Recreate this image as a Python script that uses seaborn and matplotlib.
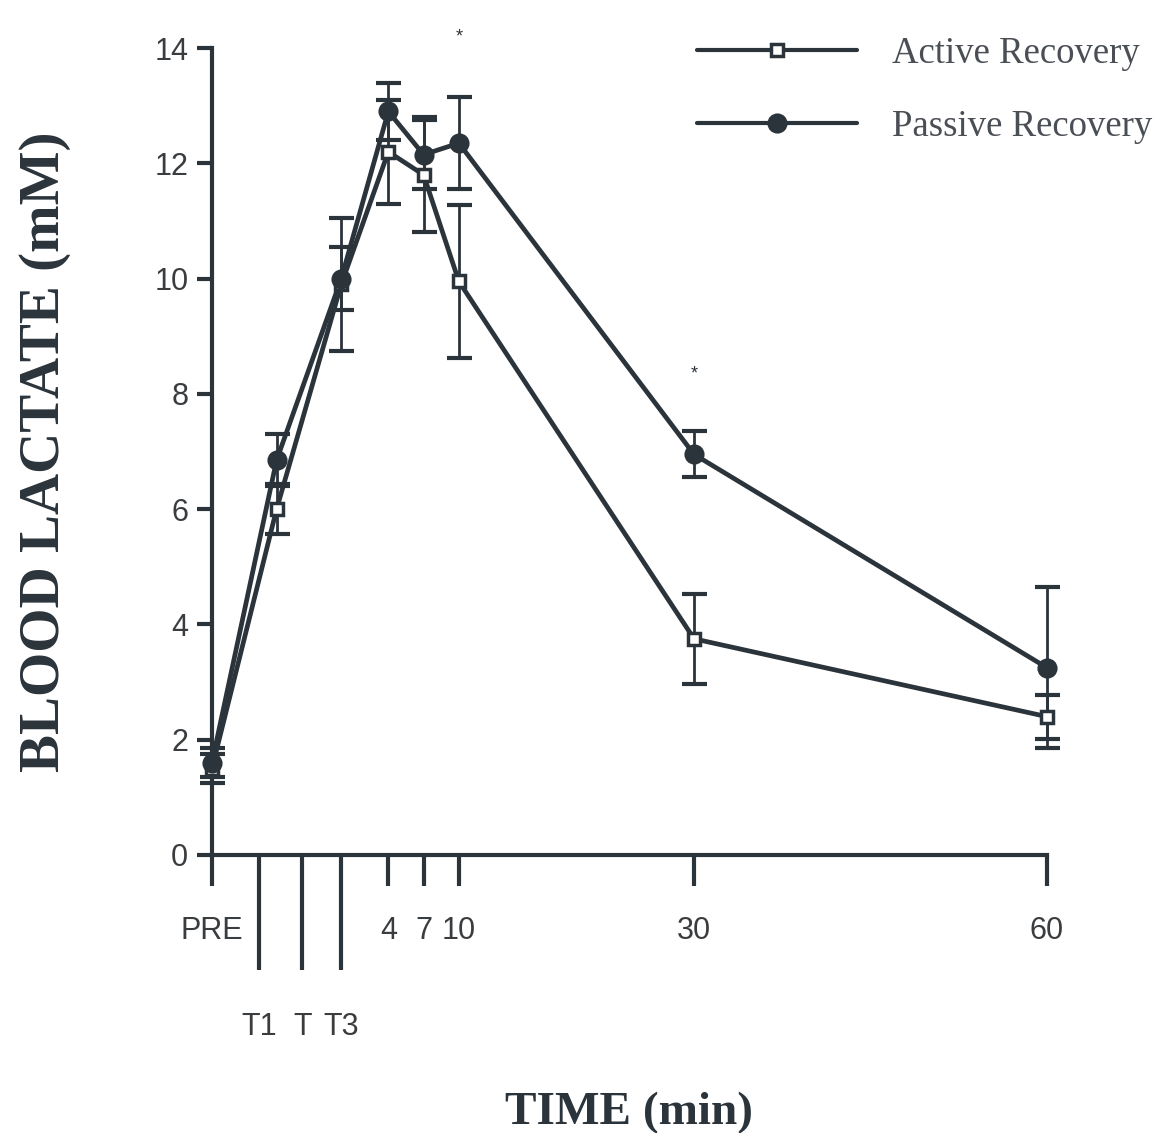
import matplotlib
matplotlib.use("Agg")
import matplotlib.pyplot as plt
from matplotlib.lines import Line2D
import numpy as np
import pandas as pd
import seaborn as sns

# Time axis (minutes, 0 = end of exercise bout T3)
major_tick_times = [-11, 4, 7, 10, 30, 60]
major_tick_labels = ["PRE", "4", "7", "10", "30", "60"]
minor_tick_times = [-7, -3.3, 0]
minor_tick_labels = ["T1", "T", "T3"]

# Sampling times and blood lactate (mean +/- SE)
sample_times = [-11, -5.5, 0, 4, 7, 10, 30, 60]
active_mean = [1.5, 6.0, 9.9, 12.2, 11.8, 9.95, 3.75, 2.4]
active_err = [0.25, 0.43, 1.15, 0.9, 1.0, 1.32, 0.78, 0.38]
passive_mean = [1.6, 6.85, 10.0, 12.9, 12.15, 12.35, 6.95, 3.25]
passive_err = [0.25, 0.45, 0.55, 0.5, 0.6, 0.8, 0.4, 1.4]

# Significant differences between conditions
star_times = [10, 30]
star_heights = [14.2, 8.35]

ink = "#2b333b"
text_ink = "#3a3d40"

df = pd.DataFrame({
    "time": sample_times * 2,
    "lactate": active_mean + passive_mean,
    "err": active_err + passive_err,
    "group": ["Active Recovery"] * len(sample_times) + ["Passive Recovery"] * len(sample_times),
})

sns.set_theme(style="ticks")
plt.rcParams["font.family"] = ["Liberation Sans", "DejaVu Sans"]

fig = plt.figure(figsize=(11.58, 11.33), dpi=100)
ax = fig.add_axes([0.183, 0.2454, 0.721, 0.7122])

styles = {
    "Active Recovery": dict(marker="s", mfc="white", ms=9),
    "Passive Recovery": dict(marker="o", mfc=ink, ms=12),
}

sns.lineplot(data=df, x="time", y="lactate", hue="group",
             palette=[ink, ink], lw=3.4, legend=False, ax=ax, sort=False)

for name, sub in df.groupby("group"):
    ax.errorbar(sub["time"], sub["lactate"], yerr=sub["err"], fmt="none",
                ecolor=ink, elinewidth=2.0, capsize=9, capthick=3, clip_on=False, zorder=3)
    ax.plot(sub["time"], sub["lactate"], ls="none", color=ink, mec=ink, mew=2.5,
            clip_on=False, zorder=4, **styles[name])

for t, h in zip(star_times, star_heights):
    ax.text(t, h, "*", ha="center", va="center", fontsize=13, color=ink)

ax.set_xlim(-11, 60)
ax.set_ylim(0, 14)
ax.set_yticks(range(0, 15, 2))
ax.set_xticks(major_tick_times)
ax.set_xticklabels(major_tick_labels)
ax.set_xticks(minor_tick_times, minor=True)
ax.set_xticklabels(minor_tick_labels, minor=True)

ax.tick_params(axis="y", direction="out", length=11, width=3, color=ink,
               labelsize=22, labelcolor=text_ink, pad=6)
ax.tick_params(axis="x", which="major", direction="out", length=22, width=3, color=ink,
               labelsize=22, labelcolor=text_ink, pad=22)
ax.tick_params(axis="x", which="minor", direction="out", length=83, width=3, color=ink,
               labelsize=22, labelcolor=text_ink, pad=30)

for side in ("top", "right"):
    ax.spines[side].set_visible(False)
for side in ("left", "bottom"):
    ax.spines[side].set_linewidth(3)
    ax.spines[side].set_color(ink)

ax.set_xlabel("TIME (min)", fontsize=34, fontweight="bold", family="Liberation Serif",
              color=ink, labelpad=36)
ax.set_ylabel("BLOOD LACTATE (mM)", fontsize=41, fontweight="bold", family="Liberation Serif",
              color=ink, labelpad=60)

handles = [
    Line2D([], [], color=ink, lw=3, mec=ink, mew=2.5, **styles["Active Recovery"]),
    Line2D([], [], color=ink, lw=3, mec=ink, mew=2.5, **styles["Passive Recovery"]),
]
leg = fig.legend(handles, ["Active Recovery", "Passive Recovery"], loc="upper left",
                 bbox_to_anchor=(0.573, 0.997), frameon=False, handlelength=4.35,
                 handletextpad=0.95, labelspacing=1.05, numpoints=1,
                 prop={"family": "Liberation Serif", "size": 26.5})
for txt in leg.get_texts():
    txt.set_color("#4a4e55")

fig.patch.set_facecolor("white")
fig.savefig("out.png", dpi=100, facecolor="white")
